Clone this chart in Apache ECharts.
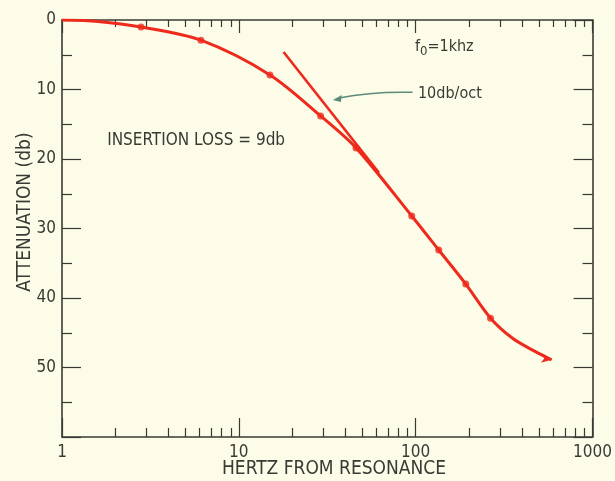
<!DOCTYPE html>
<html>
<head>
<meta charset="utf-8">
<script src="https://cdn.jsdelivr.net/npm/echarts@6/dist/echarts.min.js"></script>
<style>
  html, body { margin: 0; padding: 0; background: #fcfce8; }
  #chart { width: 615px; height: 481px; }
</style>
</head>
<body>
<div id="chart"></div>
<script>
// Faired attenuation curve (frequency offset in Hz, attenuation in dB)
const curveHz = [1, 1.6, 2.8, 6.1, 15, 29, 46, 95, 135, 192, 265, 353, 458, 587];
const curveDb = [0, 0.2, 1.0, 2.9, 7.9, 13.8, 18.4, 28.2, 33.1, 38.0, 42.9, 45.8, 47.5, 48.9];

// Measured points
const pointHz = [2.8, 6.1, 15, 29, 46, 95, 135, 192, 265];
const pointDb = [1.0, 2.9, 7.9, 13.8, 18.4, 28.2, 33.1, 38.0, 42.9];

// 10 dB/octave asymptote
const slopeHz = [17.9, 62];
const slopeDb = [4.6, 22];

// Axis ticks
const xMajorTicks = [1, 10, 100, 1000];
const xMinorTicks = [2, 3, 4, 5, 6, 7, 8, 9, 20, 30, 40, 50, 60, 70, 80, 90,
                     200, 300, 400, 500, 600, 700, 800, 900];
const yMin = 0, yMax = 60, yStep = 10;

const RED = '#ee2a1c';
const INK = '#3a3a34';
const FONT = '"Liberation Sans Narrow", "DejaVu Sans Condensed", sans-serif';

const chart = echarts.init(document.getElementById('chart'));

function xAxisDef(position, ticks, len, showLine, showLabel) {
  return {
    type: 'log', logBase: 10, min: 1, max: 1000, position: position,
    axisLine: { show: showLine, onZero: false, lineStyle: { color: INK, width: 1.6 } },
    axisTick: { show: true, inside: true, length: len, customValues: ticks,
                lineStyle: { color: INK, width: 1.2 } },
    axisLabel: { show: showLabel, customValues: xMajorTicks, margin: 7, color: INK,
                 fontFamily: FONT, fontSize: 17, formatter: v => String(v) },
    splitLine: { show: false },
    minorTick: { show: false }
  };
}

function yAxisDef(position, showLabel) {
  return {
    type: 'value', min: yMin, max: yMax, interval: yStep, inverse: true, position: position,
    axisLine: { show: true, onZero: false, lineStyle: { color: INK, width: 1.6 } },
    axisTick: { show: true, inside: true, length: 19, lineStyle: { color: INK, width: 1.2 } },
    minorTick: { show: true, splitNumber: 2, length: 10, lineStyle: { color: INK, width: 1.2 } },
    axisLabel: { show: showLabel, margin: 6, color: INK, fontFamily: FONT, fontSize: 17,
                 formatter: v => (v === yMax ? '' : String(v)) },
    splitLine: { show: false }
  };
}

const curveData = curveHz.map((h, i) => [h, curveDb[i]]);
const lastIdx = curveData.length - 1;
curveData[lastIdx] = {
  value: curveData[lastIdx],
  symbol: 'arrow', symbolSize: [7, 10], symbolRotate: -100,
  itemStyle: { color: RED }
};

chart.setOption({
  backgroundColor: '#fcfce8',
  animation: false,
  grid: { left: 62, top: 20, width: 531, height: 417, containLabel: false },
  xAxis: [
    xAxisDef('bottom', xMajorTicks, 19, true, true),
    xAxisDef('bottom', xMinorTicks, 9, false, false),
    xAxisDef('top', xMajorTicks, 13, true, false),
    xAxisDef('top', xMinorTicks, 7, false, false)
  ],
  yAxis: [yAxisDef('left', true), yAxisDef('right', false)],
  series: [
    {
      type: 'line', xAxisIndex: 0, yAxisIndex: 0,
      data: curveData, smooth: 0.3,
      showSymbol: true, symbol: 'none',
      lineStyle: { color: RED, width: 3 }
    },
    {
      type: 'line', xAxisIndex: 0, yAxisIndex: 0,
      data: slopeHz.map((h, i) => [h, slopeDb[i]]),
      symbol: 'none', lineStyle: { color: RED, width: 2.6 }
    },
    {
      type: 'scatter', xAxisIndex: 0, yAxisIndex: 0,
      data: pointHz.map((h, i) => [h, pointDb[i]]),
      symbol: 'circle', symbolSize: 7, itemStyle: { color: RED }
    }
  ]
});

// Annotations placed from data coordinates
const px = (h, d) => chart.convertToPixel({ xAxisIndex: 0, yAxisIndex: 0 }, [h, d]);
const fPos = px(99, 3.8);
const slopeLabel = px(103, 10.6);
const arrowStart = px(96, 10.4);
const arrowEnd = px(34, 11.5);
const lossPos = px(1.8, 17.4);
const ANNOT = '#5d8a7a';

chart.setOption({
  graphic: [
    {
      type: 'text', x: 334, y: 469,
      style: { text: 'HERTZ FROM RESONANCE', font: '19px ' + FONT, fill: INK,
               align: 'center', verticalAlign: 'middle' }
    },
    {
      type: 'text', x: 25, y: 212, rotation: Math.PI / 2,
      style: { text: 'ATTENUATION (db)', font: '19px ' + FONT, fill: INK,
               align: 'center', verticalAlign: 'middle' }
    },
    {
      type: 'text', x: fPos[0], y: fPos[1],
      style: {
        text: 'f{s|0}=1khz', fill: INK, font: '16px ' + FONT,
        verticalAlign: 'middle',
        rich: { s: { fontSize: 13, fontFamily: FONT, fill: INK, padding: [10, 0, 0, 0] } }
      }
    },
    {
      type: 'text', x: slopeLabel[0], y: slopeLabel[1],
      style: { text: '10db/oct', fill: INK, font: '16px ' + FONT, verticalAlign: 'middle' }
    },
    {
      type: 'bezierCurve',
      shape: {
        x1: arrowStart[0], y1: arrowStart[1],
        x2: arrowEnd[0] + 6, y2: arrowEnd[1] - 2,
        cpx1: (arrowStart[0] + arrowEnd[0]) / 2, cpy1: arrowStart[1] - 1
      },
      style: { stroke: ANNOT, lineWidth: 1.5, fill: null }
    },
    {
      type: 'polygon',
      shape: { points: [[arrowEnd[0], arrowEnd[1]], [arrowEnd[0] + 9, arrowEnd[1] - 5],
                        [arrowEnd[0] + 8, arrowEnd[1] + 2]] },
      style: { fill: ANNOT }
    },
    {
      type: 'text', x: lossPos[0], y: lossPos[1],
      style: { text: 'INSERTION LOSS = 9db', fill: INK, font: '17px ' + FONT,
               verticalAlign: 'middle' }
    }
  ]
});
</script>
</body>
</html>
